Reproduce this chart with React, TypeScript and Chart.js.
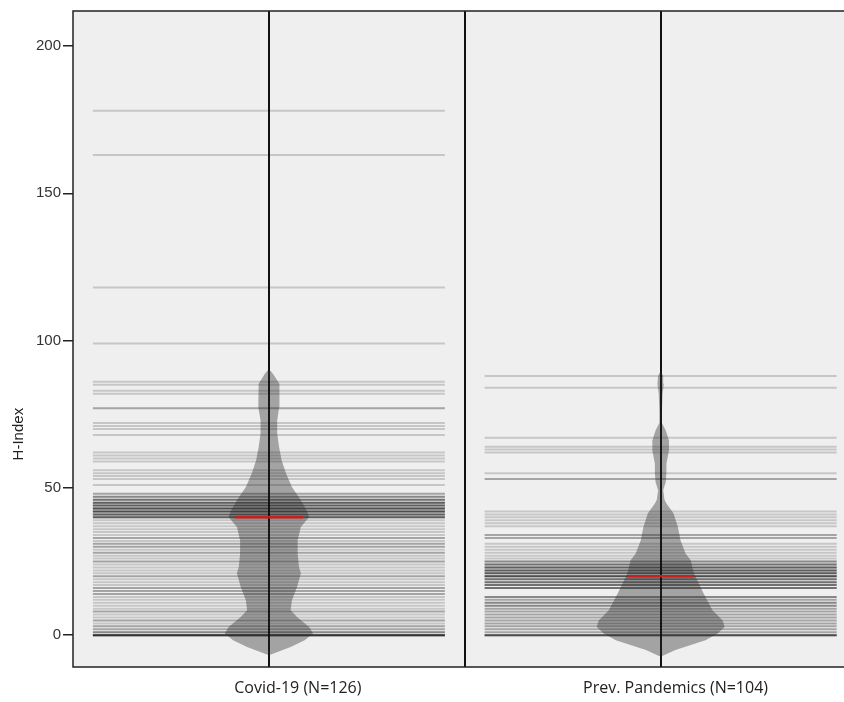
import React, { useEffect, useRef } from 'react';
import { Chart, registerables } from 'chart.js';

Chart.register(...registerables);

// ---------- data ----------
const categories = ['Covid-19 (N=126)', 'Prev. Pandemics (N=104)'];
const yAxisTitle = 'H-Index';
const yTicks = [0, 50, 100, 150, 200];

const covidValues = [
  178, 163, 118, 99, 86, 85, 83, 82, 77, 77, 72, 71, 70, 68, 62, 61, 60, 59, 56, 55, 54, 53, 51,
  48, 48, 47, 47, 47, 46, 46, 46, 46, 45, 45, 45, 45, 45, 44, 44, 44, 44, 44,
  43, 43, 43, 43, 43, 43, 42, 42, 42, 42, 42, 42, 41, 41, 41, 41, 41, 40, 40, 40, 40, 40,
  39, 38, 37, 36, 35, 34, 33, 33, 32, 31, 31, 30, 30, 29, 28, 28, 27, 26, 25, 25, 24, 23, 22, 21,
  20, 20, 19, 18, 17, 16, 16, 15, 15, 14, 14, 13, 12, 11, 10, 9, 8, 8, 7, 6, 5, 5, 4, 3, 3, 2, 2,
  1, 1, 1, 0, 0, 0, 0, 0, 0, 0, 0,
];

const prevValues = [
  88, 84, 67, 64, 63, 62, 55, 53, 53, 42, 41, 40, 39, 38, 37, 34, 34, 33, 33, 31, 30, 29, 28, 27, 26,
  25, 25, 25, 24, 24, 24, 24, 23, 23, 23, 23, 23, 22, 22, 22, 22, 22, 21, 21, 21, 21, 21,
  20, 20, 20, 20, 20, 20,
  19, 19, 19, 19, 18, 18, 18, 18, 17, 17, 17, 17, 16, 16, 16, 16, 13, 13, 13, 12, 12,
  11, 11, 11, 10, 10, 10, 9, 9, 8, 8, 7, 7, 6, 6, 5, 5, 4, 4, 3, 3, 2, 2, 1, 1,
  0, 0, 0, 0, 0, 0,
];

// violin (density) profiles: level and relative half-width
const covidViolinLevels = [-6.8, -4, -1.7, 0.6, 2.8, 6.2, 8.5, 11.9, 16.4, 21, 23.2, 27.7, 32.2, 36.7, 40.1, 42.4, 45.8, 50.3, 54.8, 59.3, 63.8, 68.5, 72.9, 77.4, 82, 85.4, 88.8, 90.4];
const covidViolinDensity = [0, 0.34, 0.56, 0.69, 0.63, 0.44, 0.34, 0.36, 0.44, 0.5, 0.47, 0.45, 0.45, 0.5, 0.63, 0.59, 0.5, 0.36, 0.27, 0.2, 0.16, 0.13, 0.13, 0.16, 0.17, 0.16, 0.06, 0];

const prevViolinLevels = [-7.3, -5, -1.7, 0.6, 2.8, 5, 8.5, 14.2, 21, 25.4, 27.7, 32.2, 36.7, 41.4, 44.7, 46, 49.2, 52, 55, 58.3, 62.7, 64, 66.1, 69.5, 72, 76, 82, 85.4, 88, 89.8];
const prevViolinDensity = [0, 0.23, 0.7, 0.89, 1, 0.97, 0.81, 0.67, 0.52, 0.47, 0.39, 0.31, 0.27, 0.2, 0.09, 0.06, 0.04, 0.08, 0.09, 0.09, 0.13, 0.13, 0.13, 0.08, 0.02, 0.02, 0.03, 0.05, 0.04, 0];

// ---------- helpers ----------
function median(a: number[]): number {
  const s = [...a].sort((x, y) => x - y);
  const n = s.length;
  return n % 2 ? s[(n - 1) / 2] : (s[n / 2 - 1] + s[n / 2]) / 2;
}

function violinPolygon(levels: number[], dens: number[], cx: number, k: number) {
  const right = levels.map((v, i) => ({ x: cx + dens[i] * k, y: v }));
  const left = levels.map((v, i) => ({ x: cx - dens[i] * k, y: v })).reverse();
  return [...right, ...left];
}

export default function App() {
  const ref = useRef<HTMLCanvasElement>(null);

  useEffect(() => {
    if (!ref.current) return;
    const X_MAX = 1.968;
    const centers = [0.5, 1.5];
    const labelAnchors = [0.574, 1.538];
    const violinK = 64 / 392;

    const framePlugin = {
      id: 'frame',
      beforeDraw(chart: any) {
        const { ctx, chartArea: a } = chart;
        ctx.save();
        ctx.fillStyle = '#efefef';
        ctx.fillRect(a.left, a.top, a.right - a.left, a.bottom - a.top);
        ctx.restore();
      },
      afterDraw(chart: any) {
        const { ctx, chartArea: a } = chart;
        ctx.save();
        ctx.strokeStyle = '#222';
        ctx.lineWidth = 1.5;
        ctx.strokeRect(a.left, a.top, a.right - a.left + 20, a.bottom - a.top);
        ctx.fillStyle = '#222';
        ctx.font = '15px "Liberation Sans", Arial, sans-serif';
        ctx.textAlign = 'center';
        ctx.textBaseline = 'middle';
        ctx.translate(19, a.top + (a.bottom - a.top) * 0.645);
        ctx.rotate(-Math.PI / 2);
        ctx.fillText(yAxisTitle, 0, 0);
        ctx.restore();
      },
    };

    const beanDataset = (vals: number[], cx: number) => ({
      type: 'scatter',
      data: vals.map((v) => ({ x: cx, y: v })),
      pointStyle: 'line',
      pointRadius: 176,
      pointHoverRadius: 176,
      pointBorderWidth: 2,
      pointBorderColor: 'rgba(0,0,0,0.17)',
      pointBackgroundColor: 'rgba(0,0,0,0)',
      showLine: false,
      order: 3,
    });

    const violinDataset = (levels: number[], dens: number[], cx: number) => ({
      type: 'scatter',
      data: violinPolygon(levels, dens, cx, violinK),
      showLine: true,
      fill: 'shape',
      backgroundColor: 'rgba(40,40,40,0.38)',
      borderWidth: 0,
      borderColor: 'rgba(0,0,0,0)',
      pointRadius: 0,
      tension: 0,
      order: 2,
    });

    const chart = new Chart(ref.current, {
      type: 'scatter',
      data: {
        datasets: [
          {
            type: 'scatter',
            data: [
              { x: centers[0], y: median(covidValues) },
              { x: centers[1], y: median(prevValues) },
            ],
            pointStyle: 'line',
            pointRadius: [34, 33],
            pointBorderWidth: 2.5,
            pointBorderColor: '#c81e1e',
            showLine: false,
            order: 1,
          } as any,
          violinDataset(covidViolinLevels, covidViolinDensity, centers[0]) as any,
          violinDataset(prevViolinLevels, prevViolinDensity, centers[1]) as any,
          beanDataset(covidValues, centers[0]) as any,
          beanDataset(prevValues, centers[1]) as any,
        ],
      },
      options: {
        animation: false,
        responsive: false,
        maintainAspectRatio: false,
        devicePixelRatio: 1,
        layout: { autoPadding: false, padding: { top: 10, left: 0, right: 0, bottom: 0 } },
        plugins: { legend: { display: false }, tooltip: { enabled: false } },
        events: [],
        scales: {
          x: {
            type: 'linear',
            position: 'bottom',
            min: 0,
            max: X_MAX,
            afterBuildTicks: (s: any) => {
              s.ticks = labelAnchors.map((v) => ({ value: v }));
            },
            ticks: {
              callback: (_v: any, i: number) => categories[i],
              font: { family: '"Open Sans", "Noto Sans", sans-serif', size: 16 },
              color: '#222',
              padding: 12,
              maxRotation: 0,
              autoSkip: false,
            },
            grid: { display: false, drawTicks: false },
            border: { display: false },
            afterFit: (s: any) => {
              s.height = 35;
            },
          },
          x2: {
            type: 'linear',
            position: 'bottom',
            min: 0,
            max: X_MAX,
            z: 1,
            afterBuildTicks: (s: any) => {
              s.ticks = [centers[0], 1, centers[1]].map((v) => ({ value: v }));
            },
            ticks: { display: false },
            grid: { color: '#111', lineWidth: 2, drawTicks: false, drawOnChartArea: true },
            border: { display: false },
            afterFit: (s: any) => {
              s.height = 0;
            },
          },
          y: {
            type: 'linear',
            min: -10.8,
            max: 211.9,
            afterBuildTicks: (s: any) => {
              s.ticks = yTicks.map((v) => ({ value: v }));
            },
            ticks: {
              font: { family: '"Liberation Sans", Arial, sans-serif', size: 15 },
              color: '#333',
              padding: 2,
            },
            grid: { drawOnChartArea: false, drawTicks: true, tickLength: 10, color: '#222', lineWidth: 1.5 },
            border: { display: false },
            afterFit: (s: any) => {
              s.width = 73;
            },
          },
        },
      } as any,
      plugins: [framePlugin],
    });

    return () => chart.destroy();
  }, []);

  return (
    <div style={{ position: 'fixed', left: 0, top: 0, width: 844, height: 702, background: '#fff' }}>
      <canvas ref={ref} width={844} height={702} style={{ display: 'block', width: 844, height: 702 }} />
    </div>
  );
}
